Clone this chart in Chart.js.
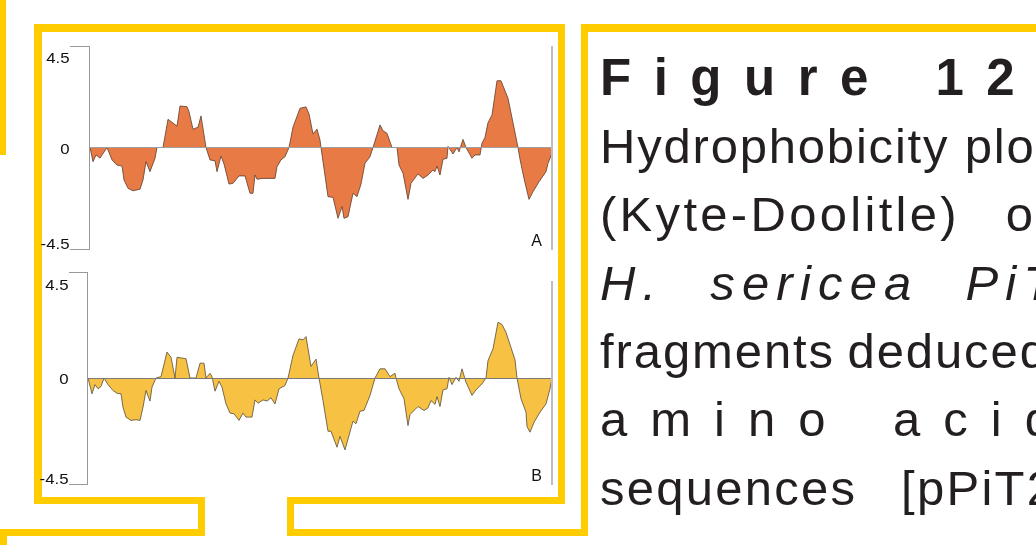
<!DOCTYPE html>
<html lang="en">

<head>
    <meta charset="UTF-8">
    <script src="https://cdn.jsdelivr.net/npm/chart.js@4.4.1/dist/chart.umd.min.js"></script>
    <title>Figure 12</title>
    <style>
        body { margin: 0; width: 1036px; height: 545px; overflow: hidden; background: #fff; position: relative; }
        .bar { position: absolute; background: #ffcc00; }
        canvas { position: absolute; }
        .cap { position: absolute; left: 600px; white-space: nowrap; color: #231f20;
               font-family: "Liberation Sans", Arial, sans-serif; font-size: 49px; line-height: 1; }
    </style>
</head>

<body>
    <!-- yellow frame pieces -->
    <div class="bar" style="left:0;top:0;width:6px;height:155px"></div>
    <div class="bar" style="left:34px;top:24px;width:8px;height:480px"></div>
    <div class="bar" style="left:34px;top:24px;width:531px;height:8px"></div>
    <div class="bar" style="left:558px;top:24px;width:7px;height:480px"></div>
    <div class="bar" style="left:34px;top:497px;width:171px;height:7px"></div>
    <div class="bar" style="left:287px;top:497px;width:278px;height:7px"></div>
    <div class="bar" style="left:198px;top:497px;width:7px;height:39px"></div>
    <div class="bar" style="left:0;top:529px;width:205px;height:7px"></div>
    <div class="bar" style="left:0;top:529px;width:7px;height:16px"></div>
    <div class="bar" style="left:287px;top:497px;width:7px;height:39px"></div>
    <div class="bar" style="left:287px;top:529px;width:301px;height:7px"></div>
    <div class="bar" style="left:581px;top:24px;width:7px;height:512px"></div>
    <div class="bar" style="left:581px;top:24px;width:455px;height:8px"></div>

    <canvas id="chartA" width="520" height="225" style="left:40px;top:36px"></canvas>
    <canvas id="chartB" width="520" height="230" style="left:40px;top:262px"></canvas>

    <div class="cap" style="top:51.8px;font-size:51px;font-weight:bold;letter-spacing:22.5px;word-spacing:8px">Figure 12</div>
    <div class="cap" style="top:121.8px;letter-spacing:1.8px">Hydrophobicity plot</div>
    <div class="cap" style="top:190.2px;letter-spacing:3.3px;word-spacing:29px">(Kyte-Doolitle) of</div>
    <div class="cap" style="top:258.5px;font-style:italic;letter-spacing:7.2px;word-spacing:26px">H. sericea PiT2</div>
    <div class="cap" style="top:326.8px;letter-spacing:1.9px;word-spacing:-3px">fragments deduced</div>
    <div class="cap" style="top:395.2px;letter-spacing:23px;word-spacing:8px">amino acid</div>
    <div class="cap" style="top:463.5px;letter-spacing:2.25px;word-spacing:28px">sequences [pPiT2</div>

    <script>
        // Kyte-Doolittle profiles (residue position, score)
        var yTicks = [-4.5, 0, 4.5];
        var yTickLabels = ['-4.5', '0', '4.5'];
        var panelLetters = ['A', 'B'];

        var residuesA = [0,3,6,10,17,22,27,32,34,38,43,50,53,56,60,65,67,73,78,87,90,97,99,103,108,111,116,120,125,127,131,134,139,143,149,155,160,163,165,167,172,185,187,191,195,199,203,210,216,219,223,227,230,231,238,243,248,252,254,258,263,267,271,275,280,283,290,293,297,302,307,309,313,318,321,328,333,338,343,345,347,350,353,357,358,363,367,369,373,376,382,385,390,392,395,398,402,407,411,418,423,428,430,434,439,443,449,456,458,462];
        var hydroA = [0,-0.63,-0.33,-0.47,0,-0.55,-0.78,-0.82,-1.44,-1.81,-1.92,-1.85,-1.44,-0.63,-1.07,-0.48,0,0,1.25,0.95,1.84,1.81,1.59,0.81,0.90,1.40,0,-0.55,-0.59,-1.07,-0.38,-0.73,-1.62,-1.59,-1.26,-1.26,-2.03,-2.03,-1.22,-1.41,-1.37,-1.37,-0.85,-0.55,-0.41,0,0.90,1.74,1.80,1.49,0.60,0.81,0.33,0,-2.18,-2.21,-3.14,-2.62,-3.14,-3.07,-2.03,-2.18,-1.62,-0.70,-0.41,0,1.00,0.74,0.63,0,0,-0.78,-1.14,-2.30,-1.59,-1.17,-1.37,-1.22,-1.00,-1.07,-0.82,-1.22,-0.52,-0.48,0.05,-0.29,0,-0.19,0.36,0,-0.48,-0.33,-0.33,0.19,0.45,1.10,1.44,2.96,2.96,2.18,1.10,0,-0.52,-1.37,-2.30,-1.96,-1.52,-1.07,-0.70,-0.26];

        var residuesB = [0,4,7,10,13,16,20,25,29,33,35,38,43,48,52,55,58,62,64,68,73,79,83,87,89,98,102,108,112,116,118,122,124,127,131,134,138,142,146,151,155,158,164,167,170,175,179,183,187,191,197,200,205,211,215,218,223,228,231,235,240,243,249,252,257,265,268,272,276,282,287,292,297,302,307,308,311,316,320,322,330,336,340,343,347,349,352,355,359,361,364,368,371,374,378,384,388,394,398,400,405,410,414,418,422,427,429,433,438,439,442,446,452,458,462,464];
        var hydroB = [0,-0.67,-0.28,-0.46,-0.36,0,-0.28,-0.53,-0.65,-0.67,-1.24,-1.66,-1.80,-1.77,-1.80,-1.24,-0.53,-0.98,-0.39,0,0.06,1.10,0.88,0,0.88,0.82,0,0,0.63,0.63,0,0.20,0.06,-0.56,-0.14,-0.39,-1.10,-1.49,-1.52,-1.80,-1.49,-1.66,-1.66,-0.93,-1.07,-0.93,-0.98,-0.84,-1.10,-0.46,-0.32,0,0.96,1.66,1.62,1.76,0.49,0.80,0,-0.96,-2.26,-2.26,-2.94,-2.48,-3.05,-1.83,-1.94,-1.41,-1.38,-0.74,0,0.39,0.39,0.06,0.20,0,-0.46,-0.88,-2.02,-1.55,-1.21,-1.38,-1.27,-0.96,-1.12,-0.79,-1.21,-0.50,-0.46,0.03,-0.28,0.03,-0.14,0.39,-0.18,-0.74,-0.50,-0.25,0,0.74,1.24,2.37,2.27,1.94,1.42,0.77,0,-0.88,-1.45,-2.06,-2.30,-1.88,-1.45,-1.10,-0.46,0];

        // tick labels sit off-centre in the original, plus axis line, panel letter and right edge line
        var panelPlugin = {
            id: 'panel',
            afterDraw: function (chart, args, opts) {
                var ctx = chart.ctx, area = chart.chartArea, y = chart.scales.y;
                var top = y.getPixelForValue(4.5), bottom = y.getPixelForValue(-4.5);
                ctx.save();
                ctx.strokeStyle = '#999';
                ctx.lineWidth = 1;
                ctx.beginPath();
                ctx.moveTo(Math.round(area.left) - 0.5, top);
                ctx.lineTo(Math.round(area.left) - 0.5, bottom);
                ctx.stroke();

                ctx.fillStyle = '#111';
                ctx.font = '14px "Liberation Sans", Arial, sans-serif';
                ctx.textAlign = 'right';
                ctx.textBaseline = 'alphabetic';
                yTicks.forEach(function (v, i) {
                    ctx.save();
                    ctx.translate(area.left - opts.tick - 0.5, y.getPixelForValue(v) + opts.shifts[i]);
                    ctx.scale(1.2, 1);
                    ctx.fillText(yTickLabels[i], 0, 0);
                    ctx.restore();
                });
                ctx.font = '16px "Liberation Sans", Arial, sans-serif';
                ctx.fillText(opts.letter, area.right - 10, area.bottom - 3);
                ctx.strokeStyle = '#bdbdbd';
                ctx.lineWidth = 2;
                ctx.beginPath();
                ctx.moveTo(area.right, area.top + opts.lineTop);
                ctx.lineTo(area.right, area.bottom + 1);
                ctx.stroke();
                ctx.restore();
            }
        };

        function hydroChart(id, xs, ys, fill, edge, zeroColor, letter, shifts, lineTop, tick, pad) {
            var points = xs.map(function (x, i) { return { x: x, y: ys[i] }; });
            return new Chart(document.getElementById(id), {
                type: 'line',
                data: {
                    datasets: [{
                        data: points,
                        fill: 'origin',
                        backgroundColor: fill,
                        borderColor: edge,
                        borderWidth: 0.9,
                        pointRadius: 0,
                        tension: 0
                    }]
                },
                options: {
                    responsive: false,
                    animation: false,
                    layout: { padding: pad },
                    plugins: {
                        legend: { display: false },
                        tooltip: { enabled: false },
                        panel: { letter: letter, shifts: shifts, lineTop: lineTop, tick: tick }
                    },
                    scales: {
                        x: { type: 'linear', min: 0, max: xs[xs.length - 1], display: false },
                        y: {
                            min: -4.5, max: 4.5,
                            afterBuildTicks: function (s) { s.ticks = yTicks.map(function (v) { return { value: v }; }); },
                            afterFit: function (s) { s.width = tick; },
                            ticks: { display: false },
                            border: { display: false },
                            grid: {
                                z: 1,
                                tickLength: tick,
                                color: function (c) { return c.tick && c.tick.value === 0 ? zeroColor : 'rgba(0,0,0,0)'; },
                                tickColor: function (c) { return c.tick && c.tick.value === 0 ? 'rgba(0,0,0,0)' : '#999'; }
                            }
                        }
                    }
                },
                plugins: [panelPlugin]
            });
        }

        hydroChart('chartA', residuesA, hydroA, '#e77a45', 'rgba(95,62,45,0.9)', '#a0a0a0',
            panelLetters[0], [0, 6, 17], 0, 20, { left: 30, right: 8, top: 10, bottom: 12 });
        hydroChart('chartB', residuesB, hydroB, '#f7c244', 'rgba(90,78,55,0.9)', '#7a7a7a',
            panelLetters[1], [0, 6, 18], 9, 19, { left: 29, right: 8, top: 10, bottom: 8 });
    </script>

</body>

</html>
